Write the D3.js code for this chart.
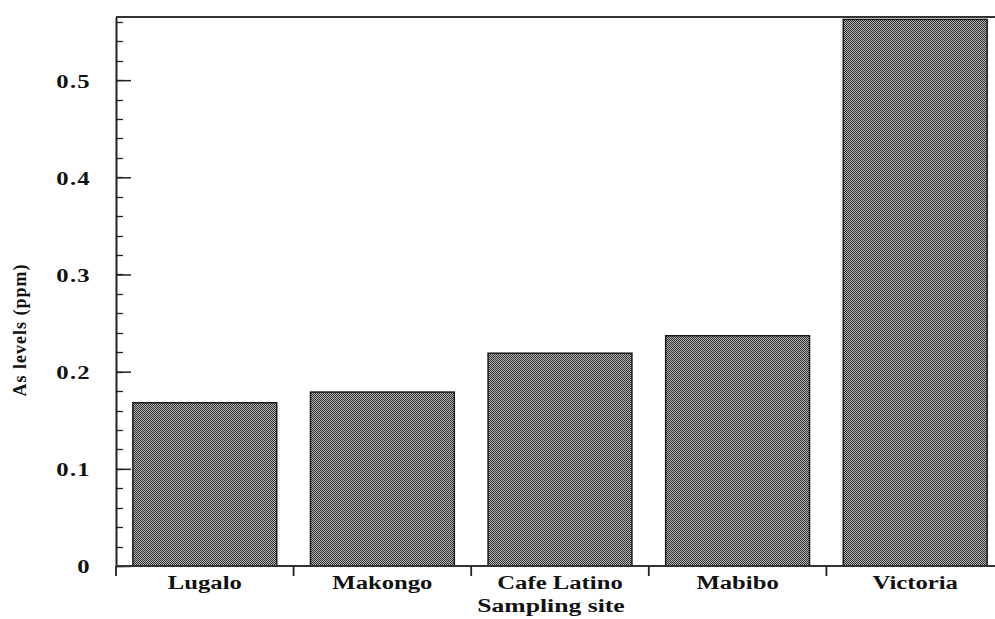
<!DOCTYPE html>
<html>
<head>
<meta charset="utf-8">
<script src="https://cdn.jsdelivr.net/npm/d3@7"></script>
<style>
  html, body { margin: 0; padding: 0; background: #fff; }
  svg { display: block; }
  text { font-family: "Liberation Serif", "DejaVu Serif", serif; font-weight: bold; fill: #111; }
</style>
</head>
<body>
<svg id="chart" width="995" height="619"></svg>
<script>
// Arsenic levels by sampling site
const sites = ["Lugalo", "Makongo", "Cafe Latino", "Mabibo", "Victoria"];
const asLevels = [0.168, 0.179, 0.219, 0.237, 0.5625];
const yTicks = [0, 0.1, 0.2, 0.3, 0.4, 0.5];
const yTickLabels = ["0", "0.1", "0.2", "0.3", "0.4", "0.5"];
const yMinorTicks = d3.range(0, 0.5601, 0.02);

const svg = d3.select("#chart");
const margin = { left: 116, top: 17, bottom: 53 };
const plotRight = 1004; // the frame runs past the right edge of the page
const H = 619;
const wide = 1.3; // horizontal stretch of the bold serif labels

const x = d3.scaleBand()
  .domain(sites)
  .range([margin.left, plotRight])
  .paddingInner(0.19)
  .paddingOuter(0.095);

const y = d3.scaleLinear()
  .domain([0, 0.565])
  .range([H - margin.bottom, margin.top]);

// Checkerboard dither fill
const defs = svg.append("defs");
const pat = defs.append("pattern")
  .attr("id", "dither")
  .attr("patternUnits", "userSpaceOnUse")
  .attr("width", 2).attr("height", 2);
pat.append("rect").attr("width", 2).attr("height", 2).attr("fill", "#b4b4b4");
pat.append("rect").attr("x", 0).attr("y", 0).attr("width", 1).attr("height", 1).attr("fill", "#303030");
pat.append("rect").attr("x", 1).attr("y", 1).attr("width", 1).attr("height", 1).attr("fill", "#303030");

// Bars
svg.append("g").selectAll("rect")
  .data(sites.map((s, i) => ({ site: s, value: asLevels[i] })))
  .join("rect")
  .attr("x", d => x(d.site))
  .attr("y", d => y(d.value))
  .attr("width", x.bandwidth())
  .attr("height", d => y(0) - y(d.value))
  .attr("fill", "url(#dither)")
  .attr("stroke", "#1a1a1a")
  .attr("stroke-width", 1.5);

// Top frame line
svg.append("line")
  .attr("x1", margin.left).attr("x2", 995)
  .attr("y1", y.range()[1]).attr("y2", y.range()[1])
  .attr("stroke", "#333").attr("stroke-width", 2);

// Y axis: minor ticks (inside)
svg.append("g").selectAll("line.minor")
  .data(yMinorTicks)
  .join("line")
  .attr("class", "minor")
  .attr("x1", margin.left).attr("x2", margin.left + 7)
  .attr("y1", d => Math.round(y(d)) + 0.5).attr("y2", d => Math.round(y(d)) + 0.5)
  .attr("stroke", "#222").attr("stroke-width", 1.3);

// Y axis: major ticks (inside) and labels
const yAxis = d3.axisRight(y)
  .tickValues(yTicks)
  .tickFormat((d, i) => yTickLabels[i])
  .tickSize(15)
  .tickSizeOuter(0);
const yg = svg.append("g").attr("transform", `translate(${margin.left},0)`).call(yAxis);
yg.select(".domain").attr("stroke", "#222").attr("stroke-width", 2);
yg.selectAll(".tick line").attr("stroke", "#222").attr("stroke-width", 1.5);
yg.selectAll(".tick text")
  .attr("x", 0)
  .attr("dy", "0.36em")
  .attr("text-anchor", "end")
  .attr("transform", `translate(-25,0) scale(${wide},1)`)
  .style("font-size", "19px")
  .style("letter-spacing", "1px")
  .style("font-family", "'Liberation Serif', serif")
  .style("font-weight", "bold")
  .attr("fill", "#111");

// X axis: baseline, boundary ticks (outside), category labels
const boundaries = sites.map(s => x(s) - x.step() * x.paddingInner() / 2);
boundaries.push(plotRight);
boundaries[0] = margin.left;
const xg = svg.append("g");
xg.append("line")
  .attr("x1", margin.left).attr("x2", 995)
  .attr("y1", y(0)).attr("y2", y(0))
  .attr("stroke", "#333").attr("stroke-width", 2);
xg.selectAll("line.tick")
  .data(boundaries)
  .join("line")
  .attr("class", "tick")
  .attr("x1", d => d).attr("x2", d => d)
  .attr("y1", y(0)).attr("y2", y(0) + 10)
  .attr("stroke", "#222").attr("stroke-width", 1.8);
xg.selectAll("text")
  .data(sites)
  .join("text")
  .attr("transform", d => `translate(${x(d) + x.bandwidth() / 2},${y(0) + 23}) scale(${wide},1)`)
  .attr("text-anchor", "middle")
  .style("font-size", "19px")
  .text(d => d);

// Axis titles
svg.append("text")
  .attr("transform", `translate(551,612) scale(${wide + 0.05},1)`)
  .attr("text-anchor", "middle")
  .style("font-size", "19px")
  .text("Sampling site");

svg.append("text")
  .attr("transform", `translate(26, 330) rotate(-90)`)
  .attr("text-anchor", "middle")
  .style("font-size", "18px")
  .style("letter-spacing", "1px")
  .text("As levels (ppm)");
</script>
</body>
</html>
